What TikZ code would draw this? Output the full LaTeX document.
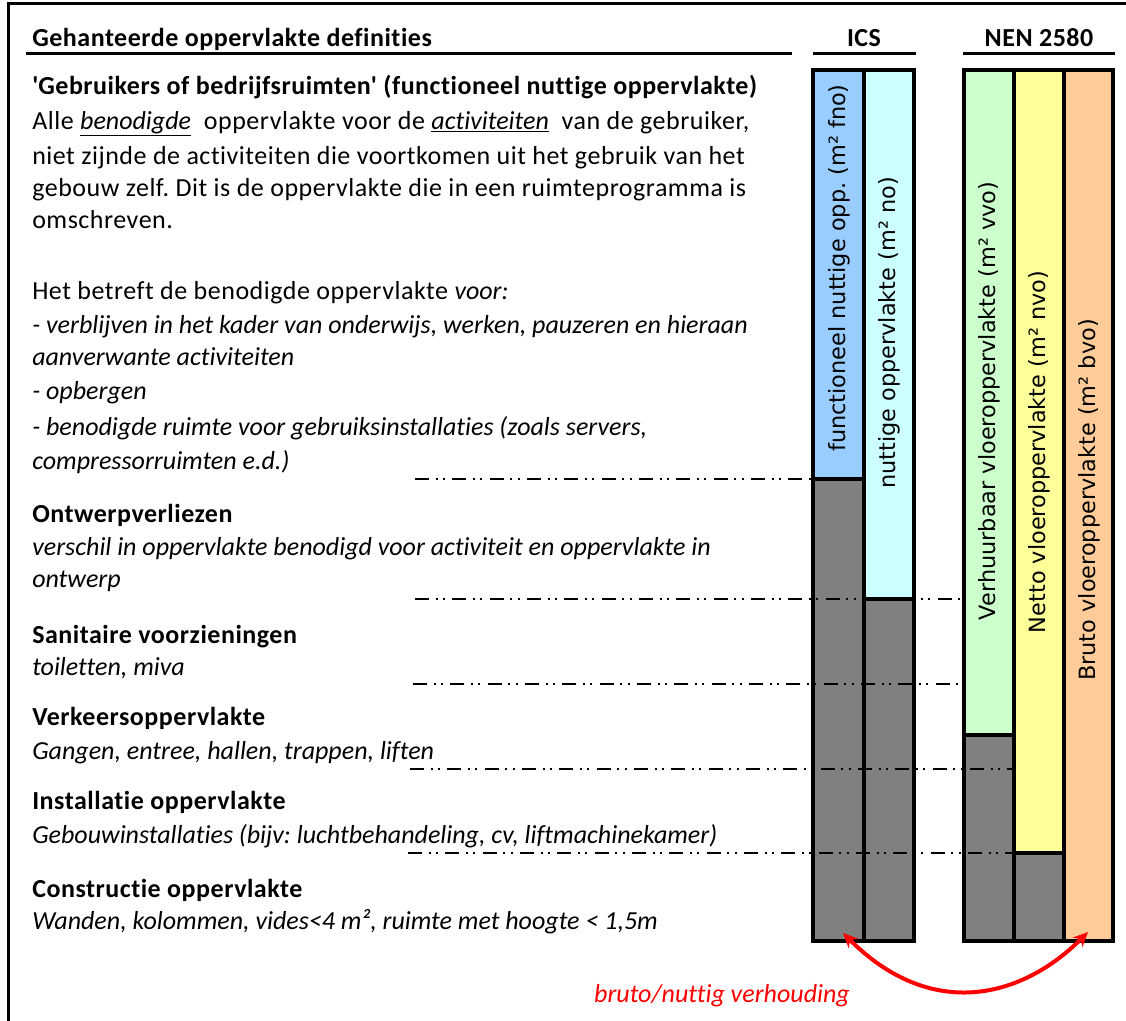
\documentclass[tikz,border=0pt]{standalone}
\usepackage{fontspec}
\setmainfont{Carlito}[Ligatures={TeX,NoCommon}, LetterSpace=2.0,
  ItalicFeatures={LetterSpace=0}, BoldItalicFeatures={LetterSpace=0}]
\newfontfamily\barfont{DejaVu Sans}
\usetikzlibrary{arrows.meta}

\definecolor{fnoblue}{RGB}{153,204,255}
\definecolor{nocyan}{RGB}{204,255,255}
\definecolor{vvogreen}{RGB}{204,255,204}
\definecolor{nvoyellow}{RGB}{255,255,153}
\definecolor{bvoorange}{RGB}{255,204,153}
\definecolor{restgrey}{RGB}{128,128,128}

\begin{document}
\frenchspacing
\begin{tikzpicture}[x=0.75pt, y=-0.75pt,
  txt/.style={anchor=base west, inner sep=0pt, font=\fontsize{19.5}{23}\selectfont},
  head/.style={txt, font=\fontsize{19.5}{23}\selectfont\bfseries},
  note/.style={txt, font=\fontsize{19.5}{23}\selectfont\itshape},
  colhead/.style={anchor=base, inner sep=0pt, font=\fontsize{19.5}{23}\selectfont\bfseries},
  barlabel/.style={rotate=90, inner sep=0pt, font=\barfont\fontsize{16.8}{20}\selectfont},
  outline/.style={line width=3pt, line cap=rect},
  rule/.style={line width=2.25pt},
  level/.style={line width=1.5pt, dash pattern=on 10.5pt off 5pt on 1.5pt off 4pt on 1.5pt off 5.5pt},
  ratio/.style={{Stealth[length=11pt,width=10pt]}-{Stealth[length=11pt,width=10pt]}, red, line width=3pt}
]
  \useasboundingbox (0,0) rectangle (1126,1020);

  % frame, cut off at right and bottom
  \draw[line width=2.25pt] (8,1040) -- (8,4) -- (1140,4);

  % column headings
  \node[head] (title) at (32,47) {Gehanteerde oppervlakte definities};
  \node[colhead] (ics) at (864,47) {ICS};
  \node[colhead] (nen) at (1039,47) {NEN 2580};
  \draw[rule] (26,54) -- (792,54);
  \draw[rule] (813,54) -- (916,54);
  \draw[rule] (963,54) -- (1115,54);

  % definitions
  \node[head] (fnohead) at (32,95) {\textquotesingle Gebruikers of bedrijfsruimten\textquotesingle\ (functioneel nuttige oppervlakte)};
  \node[txt] (fno1) at (32,129) {Alle \underline{\textit{benodigde}}\ \ oppervlakte voor de \underline{\textit{activiteiten}}\ \ van de gebruiker,};
  \node[txt] (fno2) at (32,164) {niet zijnde de activiteiten die voortkomen uit het gebruik van het};
  \node[txt] (fno3) at (32,196) {gebouw zelf. Dit is de oppervlakte die in een ruimteprogramma is};
  \node[txt] (fno4) at (32,228) {omschreven.};
  \node[txt] (fno5) at (32,299) {Het betreft de benodigde oppervlakte \textit{voor:}};
  \node[note] (fno6) at (32,333) {- verblijven in het kader van onderwijs, werken, pauzeren en hieraan};
  \node[note] (fno7) at (32,365) {aanverwante activiteiten};
  \node[note] (fno8) at (32,399) {- opbergen};
  \node[note] (fno9) at (32,435) {- benodigde ruimte voor gebruiksinstallaties (zoals servers,};
  \node[note] (fno10) at (32,469) {compressorruimten e.d.)};

  \node[head] (ontw) at (32,522) {Ontwerpverliezen};
  \node[note] (ontw1) at (32,555) {verschil in oppervlakte benodigd voor activiteit en oppervlakte in};
  \node[note] (ontw2) at (32,587) {ontwerp};

  \node[head] (sani) at (32,643) {Sanitaire voorzieningen};
  \node[note] (sani1) at (32,675) {toiletten, miva};

  \node[head] (verk) at (32,725) {Verkeersoppervlakte};
  \node[note] (verk1) at (32,759) {Gangen, entree, hallen, trappen, liften};

  \node[head] (inst) at (32,809) {Installatie oppervlakte};
  \node[note] (inst1) at (32,843) {Gebouwinstallaties (bijv: luchtbehandeling, cv, liftmachinekamer)};

  \node[head] (cons) at (32,897) {Constructie oppervlakte};
  \node[note] (cons1) at (32,929) {Wanden, kolommen, vides<4 m², ruimte met hoogte < 1,5m};

  % bar fills
  \fill[fnoblue]   (813,70) rectangle (864,479);
  \fill[nocyan]    (864,70) rectangle (914,599);
  \fill[vvogreen]  (964,70) rectangle (1014,735);
  \fill[nvoyellow] (1014,70) rectangle (1064,853);
  \fill[bvoorange] (1064,70) rectangle (1113,941);
  \fill[restgrey]  (813,479) rectangle (864,941);
  \fill[restgrey]  (864,599) rectangle (914,941);
  \fill[restgrey]  (964,735) rectangle (1014,941);
  \fill[restgrey]  (1014,853) rectangle (1064,941);

  % boundaries
  \draw[level] (415,479) -- (813,479);
  \draw[level] (415,599) -- (963,599);
  \draw[level] (413,684) -- (970,684);
  \draw[level] (410,769) -- (1014,769);
  \draw[level] (408,853) -- (1014,853);

  % bar outlines
  \draw[outline] (813,70) rectangle (914,941);
  \draw[outline] (864,70) -- (864,941);
  \draw[outline] (813,479) -- (864,479);
  \draw[outline] (864,599) -- (914,599);
  \draw[outline] (964,70) rectangle (1113,941);
  \draw[outline] (1014,70) -- (1014,941);
  \draw[outline] (1064,70) -- (1064,941);
  \draw[outline] (964,735) -- (1014,735);
  \draw[outline] (1014,853) -- (1064,853);

  % bar labels
  \node[barlabel] (fnolabel) at (839,268) {functioneel nuttige opp. (m² fno)};
  \node[barlabel] (nolabel)  at (889,333) {nuttige oppervlakte (m² no)};
  \node[barlabel] (vvolabel) at (989,401) {Verhuurbaar vloeroppervlakte (m² vvo)};
  \node[barlabel] (nvolabel) at (1039,452) {Netto vloeroppervlakte (m² nvo)};
  \node[barlabel] (bvolabel) at (1089,500) {Bruto vloeroppervlakte (m² bvo)};

  % ratio arrow
  \coordinate (icsfoot) at (843,933);
  \coordinate (nenfoot) at (1088,932);
  \draw[ratio] (icsfoot) .. controls (930,1020) and (1020,1000) .. (nenfoot);
  \node[anchor=base, inner sep=0pt, text=red, font=\fontsize{19.5}{23}\selectfont\itshape]
    (ratiolabel) at (722,1002) {bruto/nuttig verhouding};
\end{tikzpicture}
\end{document}
